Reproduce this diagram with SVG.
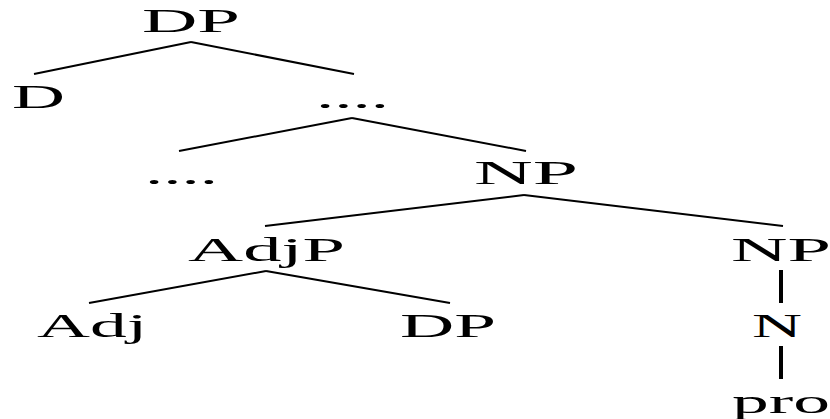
<svg xmlns="http://www.w3.org/2000/svg" width="830" height="419" viewBox="0 0 830 419">
<style>
text{font-family:"Liberation Serif","Times New Roman",serif;font-size:33px;fill:#000}
.e{stroke:#000;stroke-width:2;fill:none}
.v{stroke:#000;stroke-width:4;fill:none}
</style>
<rect width="830" height="419" fill="#fff"/>
<g id="connectors">
<line class="e" x1="191" y1="42" x2="34" y2="74"/>
<line class="e" x1="191" y1="42" x2="354" y2="74"/>
<line class="e" x1="352" y1="118" x2="179" y2="151"/>
<line class="e" x1="352" y1="118" x2="526" y2="151"/>
<line class="e" x1="524" y1="195" x2="265" y2="226"/>
<line class="e" x1="524" y1="195" x2="783" y2="226"/>
<line class="e" x1="266" y1="271" x2="89" y2="303"/>
<line class="e" x1="266" y1="271" x2="450" y2="303"/>
<line class="v" x1="781" y1="270" x2="781" y2="303"/>
<line class="v" x1="781" y1="346" x2="781" y2="379"/>
</g>
<g id="n-dp-top"><text x="142" y="32" textLength="98" lengthAdjust="spacingAndGlyphs">DP</text></g>
<g id="n-d"><text x="12" y="108" textLength="53" lengthAdjust="spacingAndGlyphs">D</text></g>
<g id="n-dots1"><text x="316" y="108" textLength="73" lengthAdjust="spacingAndGlyphs">....</text></g>
<g id="n-dots2"><text x="145" y="184" textLength="73" lengthAdjust="spacingAndGlyphs">....</text></g>
<g id="n-np-mid"><text x="474" y="184" textLength="104" lengthAdjust="spacingAndGlyphs">NP</text></g>
<g id="n-adjp"><text x="188" y="261" textLength="157" lengthAdjust="spacingAndGlyphs">AdjP</text></g>
<g id="n-np-right"><text x="731" y="261" textLength="100" lengthAdjust="spacingAndGlyphs">NP</text></g>
<g id="n-adj"><text x="37" y="337" textLength="110" lengthAdjust="spacingAndGlyphs">Adj</text></g>
<g id="n-dp-low"><text x="400" y="337" textLength="96" lengthAdjust="spacingAndGlyphs">DP</text></g>
<g id="n-n"><text x="752" y="337" textLength="50" lengthAdjust="spacingAndGlyphs">N</text></g>
<g id="n-pro"><text x="732" y="413" textLength="98" lengthAdjust="spacingAndGlyphs">pro</text></g>
</svg>
